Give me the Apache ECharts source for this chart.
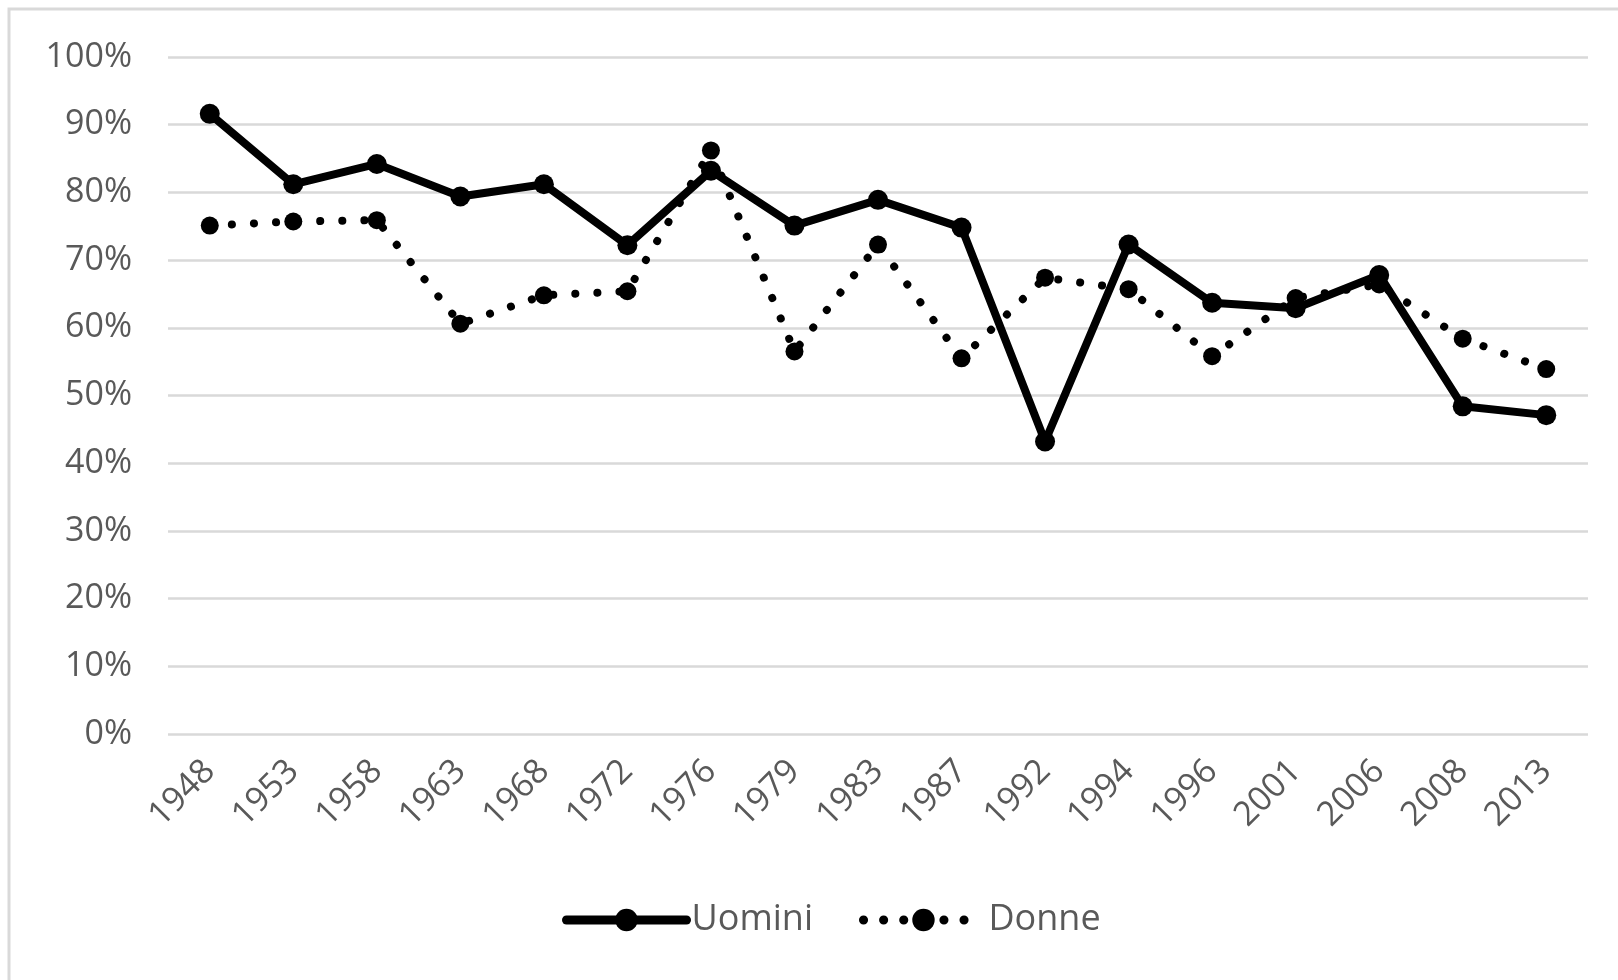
<!DOCTYPE html>
<html>
<head>
<meta charset="utf-8">
<script src="https://cdn.jsdelivr.net/npm/echarts@6/dist/echarts.min.js"></script>
<style>
    html, body { margin: 0; padding: 0; background: #ffffff; }
    #chart { width: 1618px; height: 980px; }
</style>
</head>
<body>
<div id="chart"></div>
<script>
// anni delle elezioni
var anni = ['1948', '1953', '1958', '1963', '1968', '1972', '1976', '1979', '1983',
    '1987', '1992', '1994', '1996', '2001', '2006', '2008', '2013'];
// percentuali
var uomini = [91.6, 81.2, 84.2, 79.4, 81.2, 72.2, 83.2, 75.1, 78.9, 74.8, 43.2, 72.3, 63.7, 62.9, 67.8, 48.4, 47.1];
var donne = [75.1, 75.7, 75.9, 60.6, 64.8, 65.4, 86.2, 56.5, 72.3, 55.5, 67.4, 65.7, 55.8, 64.4, 66.4, 58.4, 53.9];

var grigio = '#595959';
var font = 'Open Sans';

var myChart = echarts.init(document.getElementById('chart'));

var option = {
    animation: false,
    backgroundColor: '#ffffff',
    graphic: [{
        type: 'rect',
        shape: { x: 9, y: 9, width: 1700, height: 1100 },
        style: { fill: 'none', stroke: '#d9d9d9', lineWidth: 3 },
        silent: true
    }],
    grid: {
        left: 168,
        right: 30,
        top: 57,
        bottom: 246
    },
    legend: {
        top: 897,
        left: 557,
        itemWidth: 120,
        itemHeight: 28,
        itemGap: 46,
        textStyle: {
            color: grigio,
            fontFamily: font,
            fontSize: 36
        },
        data: [
            {
                name: 'Uomini',
                lineStyle: { color: '#000000', width: 9, cap: 'round' },
                itemStyle: { color: '#000000' }
            },
            {
                name: 'Donne',
                lineStyle: { color: '#000000', width: 9, type: [0.1, 20], cap: 'round' },
                itemStyle: { color: '#000000' }
            }
        ]
    },
    xAxis: {
        type: 'category',
        data: anni,
        boundaryGap: true,
        axisLine: { show: false },
        axisTick: { show: false },
        axisLabel: {
            interval: 0,
            rotate: 45,
            margin: 32,
            color: grigio,
            fontFamily: font,
            fontSize: 34
        }
    },
    yAxis: {
        type: 'value',
        min: 0,
        max: 100,
        interval: 10,
        axisLine: { show: false },
        axisTick: { show: false },
        axisLabel: {
            formatter: '{value}%',
            margin: 36,
            color: grigio,
            fontFamily: font,
            fontSize: 34
        },
        splitLine: {
            lineStyle: { color: '#d9d9d9', width: 2.5 }
        }
    },
    series: [
        {
            name: 'Uomini',
            type: 'line',
            data: uomini,
            symbol: 'circle',
            symbolSize: 20,
            itemStyle: { color: '#000000' },
            lineStyle: { color: '#000000', width: 8, cap: 'round', join: 'round' },
            z: 2
        },
        {
            name: 'Donne',
            type: 'line',
            data: donne,
            symbol: 'circle',
            symbolSize: 18,
            itemStyle: { color: '#000000' },
            lineStyle: {
                color: '#000000',
                width: 8,
                type: [0.1, 22],
                cap: 'round'
            },
            z: 3
        }
    ]
};

myChart.setOption(option);
</script>
</body>
</html>
